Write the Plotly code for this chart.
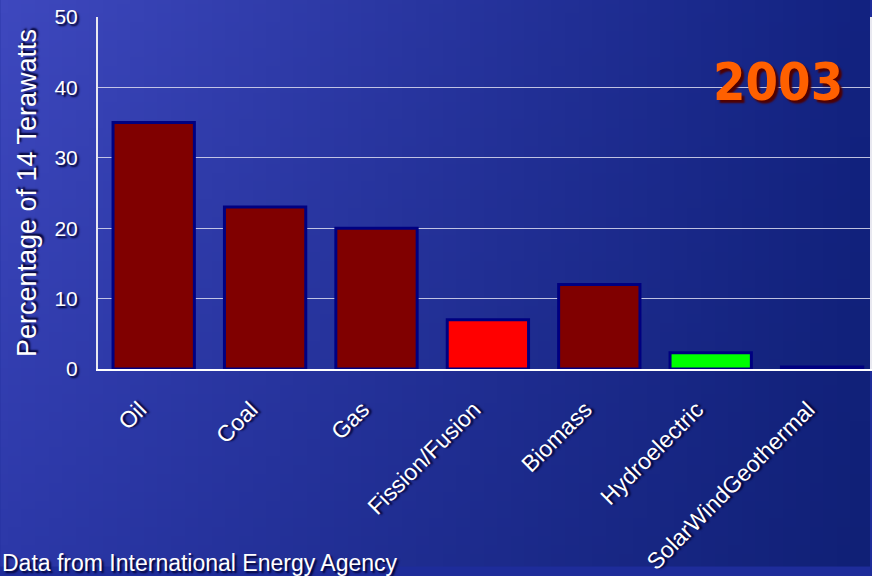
import base64, struct, zlib
import plotly.graph_objects as go

categories = ["Oil", "Coal", "Gas", "Fission/Fusion", "Biomass", "Hydroelectric", "SolarWindGeothermal"]
values = [35, 23, 20, 7, 12, 2.3, 0.3]
bar_colors = ["#800000", "#800000", "#800000", "#FF0000", "#800000", "#00FF00", "#000080"]
y_ticks = [0, 10, 20, 30, 40, 50]


def gradient_png(w, h, tl, tr, bl, br):
    rows = b""
    for j in range(h):
        fy = j / (h - 1)
        row = b"\x00"
        for i in range(w):
            fx = i / (w - 1)
            px = []
            for c in range(3):
                top = tl[c] * (1 - fx) + tr[c] * fx
                bot = bl[c] * (1 - fx) + br[c] * fx
                px.append(int(round(top * (1 - fy) + bot * fy)))
            row += bytes(px)
        rows += row

    def chunk(tag, data):
        c = tag + data
        return struct.pack(">I", len(data)) + c + struct.pack(">I", zlib.crc32(c) & 0xFFFFFFFF)

    png = b"\x89PNG\r\n\x1a\n"
    png += chunk(b"IHDR", struct.pack(">IIBBBBB", w, h, 8, 2, 0, 0, 0))
    png += chunk(b"IDAT", zlib.compress(rows, 9))
    png += chunk(b"IEND", b"")
    return "data:image/png;base64," + base64.b64encode(png).decode()


bg = gradient_png(64, 64, (62, 72, 190), (18, 34, 128), (44, 56, 168), (16, 32, 118))

fig = go.Figure()
fig.add_trace(go.Bar(
    x=categories,
    y=values,
    marker=dict(color=bar_colors, line=dict(color="#000080", width=3)),
    width=0.73,
))

shadow = "2px 2px 2px #000030"

fig.update_layout(
    width=872, height=576,
    margin=dict(l=98, r=0, t=17, b=207),
    paper_bgcolor="#1e2c9a",
    plot_bgcolor="rgba(0,0,0,0)",
    showlegend=False,
    font=dict(family="Liberation Sans, Arial, sans-serif", color="white"),
    images=[dict(source=bg, xref="paper", yref="paper", x=-0.1266, y=1.0508,
                 sizex=1.1266, sizey=1.6119, xanchor="left", yanchor="top",
                 sizing="stretch", layer="below")],
    xaxis=dict(
        range=[-0.5, 6.43],
        tickangle=-45,
        tickfont=dict(size=23, color="white", shadow=shadow),
        ticklabelstandoff=16,
        ticklabelshift=-14,
        showline=True, linecolor="white", linewidth=2,
        ticks="", showgrid=False,
    ),
    yaxis=dict(
        range=[0, 50],
        tickvals=y_ticks,
        tickfont=dict(size=21, color="white", shadow=shadow),
        ticklabelstandoff=14,
        showline=True, linecolor="#e8e8f0", linewidth=2, mirror=True,
        showgrid=True, gridcolor="rgba(220,220,240,0.85)", gridwidth=1,
        title=dict(text="Percentage of 14 Terawatts",
                   font=dict(size=27, color="white", shadow=shadow),
                   standoff=10),
        zeroline=False,
    ),
    annotations=[
        dict(text="<b>2003</b>", xref="paper", yref="paper", x=0.968, y=0.815,
             xanchor="right", yanchor="middle", showarrow=False,
             font=dict(family="DejaVu Sans Condensed, Liberation Sans Narrow, Liberation Sans, sans-serif",
                       size=52, color="#FF6000", shadow="3px 3px 2px #500000")),
        dict(text="Data from International Energy Agency", xref="paper", yref="paper",
             x=-0.1266, y=-0.551, xanchor="left", yanchor="middle", showarrow=False,
             font=dict(size=23, color="white", shadow=shadow)),
    ],
)

fig.write_html("out.html")
